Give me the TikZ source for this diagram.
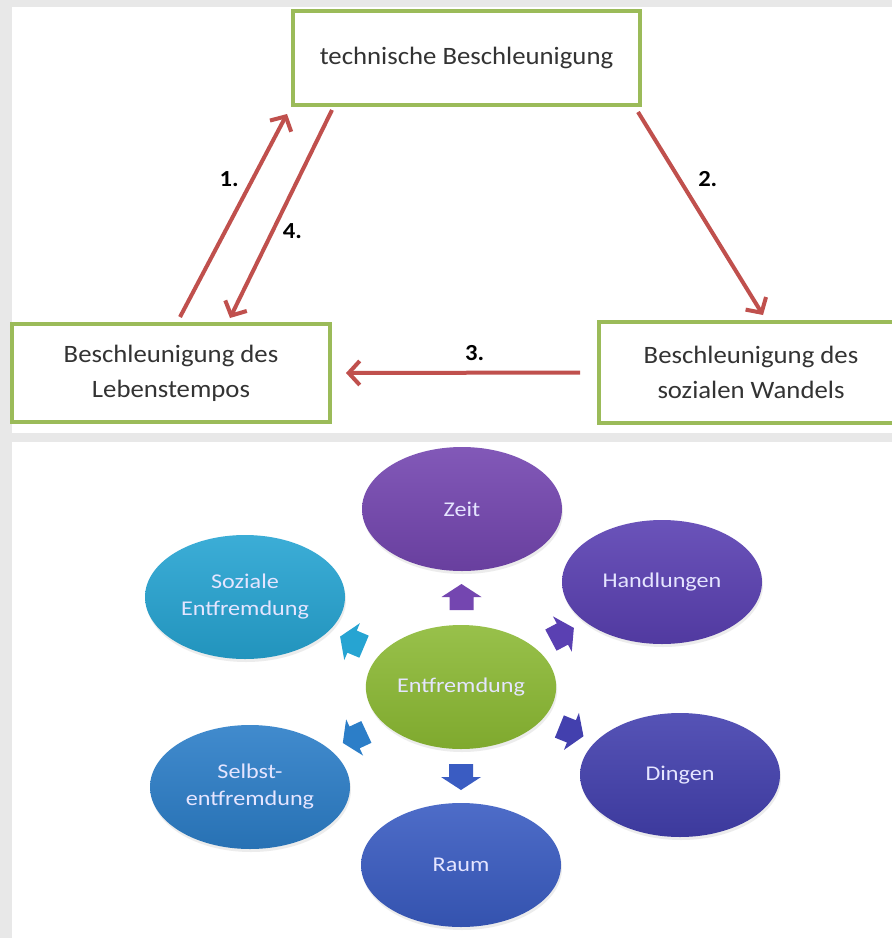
\documentclass[tikz,border=0pt]{standalone}
\usepackage{fontspec}
\setmainfont{Carlito}[FakeStretch=1.07]
\newfontfamily\blobfont{Carlito}[FakeStretch=1.15]
\usepackage{tikz}
\usetikzlibrary{arrows.meta,positioning,calc,shapes.geometric,shadows}
\usepackage{xcolor}
\definecolor{boxgreen}{HTML}{9BBB59}
\definecolor{flowred}{HTML}{C0504D}
\definecolor{zeitc}{HTML}{7446B0}
\definecolor{handc}{HTML}{5A40B2}
\definecolor{dingc}{HTML}{4340AE}
\definecolor{raumc}{HTML}{3A5CC2}
\definecolor{selbc}{HTML}{2C7EC8}
\definecolor{sozc}{HTML}{26A4D2}
\definecolor{entc}{HTML}{8AB832}

\begin{document}
\begin{tikzpicture}[x=1pt, y=-1pt, >={Straight Barb[length=11pt, width=24pt]},
    box/.style={draw=boxgreen, line width=4pt, fill=white, align=center,
      text=black!80, font=\fontsize{25}{35}\selectfont},
    flow/.style={draw=flowred, line width=4pt, ->},
    num/.style={font=\fontsize{23}{28}\selectfont\bfseries, inner sep=0pt},
    blob/.style={ellipse, minimum width=200pt, minimum height=124pt, align=center,
      text=white!90!blue, font=\blobfont\fontsize{21}{27}\selectfont,
      drop shadow={opacity=0.15, shadow xshift=1pt, shadow yshift=-3pt}},
    spoke/.style={line width=0pt}]
\useasboundingbox (0,0) rectangle (892,938);
\fill[black!9] (0,0) rectangle (892,938);
\fill[white] (12,7) rectangle (892,433);
\fill[white] (12,442) rectangle (892,938);

% Beschleunigungszirkel
\node[box, minimum width=347pt, minimum height=94pt] (tech) at (466.5,58) {technische Beschleunigung};
\node[box, minimum width=318pt, minimum height=98pt, below left=215pt and -41pt of tech] (tempo) {Beschleunigung des\\Lebenstempos};
\node[box, minimum width=304pt, minimum height=101pt, below right=213pt and -45pt of tech] (wandel) {Beschleunigung des\\sozialen Wandels};

\draw[flow] ([xshift=9pt,yshift=5pt]tempo.north) -- ([xshift=-4pt,yshift=-7pt]tech.south west) node[num, pos=0.68, left=12pt] {1.};
\draw[flow] ([xshift=-4pt,yshift=-5pt]tech.south east) -- ([xshift=12pt,yshift=5pt]wandel.north) node[num, pos=0.33, right=17pt] {2.};
\draw[flow] ([xshift=-17pt]wandel.west) -- ([xshift=14pt]tempo.east) node[num, pos=0.45, above=10pt] {3.};
\draw[flow] ([xshift=41pt,yshift=-3pt]tech.south west) -- ([xshift=59pt,yshift=4pt]tempo.north) node[num, pos=0.58, right=8pt] {4.};

% Entfremdung
\node[blob, minimum width=187pt, top color=entc!88!white, bottom color=entc!92!black] (ent) at (461,687) {Entfremdung};
\node[blob, top color=zeitc!90!white, bottom color=zeitc!90!black] (zeit) at ($(ent)+(1,-178)$) {Zeit};
\node[blob, top color=handc!90!white, bottom color=handc!90!black] (hand) at ($(ent)+(201,-105)$) {Handlungen};
\node[blob, top color=dingc!90!white, bottom color=dingc!90!black] (ding) at ($(ent)+(219,88)$) {Dingen};
\node[blob, top color=raumc!90!white, bottom color=raumc!90!black] (raum) at ($(ent)+(0,178)$) {Raum};
\node[blob, top color=selbc!90!white, bottom color=selbc!90!black] (selb) at ($(ent)+(-211,100)$) {Selbst-\\entfremdung};
\node[blob, top color=sozc!90!white, bottom color=sozc!90!black] (soz) at ($(ent)+(-216,-90)$) {Soziale\\Entfremdung};

\foreach \n/\ang in {zeit/90, hand/28, ding/-22, raum/-90, selb/205, soz/157}
  \fill[spoke, \n c, shift={($(ent)!0.5!(\n)$)}, rotate=\ang]
    (-12pt,-12pt) -- (1pt,-12pt) -- (1pt,-20pt) -- (14pt,0pt) -- (1pt,20pt) -- (1pt,12pt) -- (-12pt,12pt) -- cycle;
\end{tikzpicture}
\end{document}
